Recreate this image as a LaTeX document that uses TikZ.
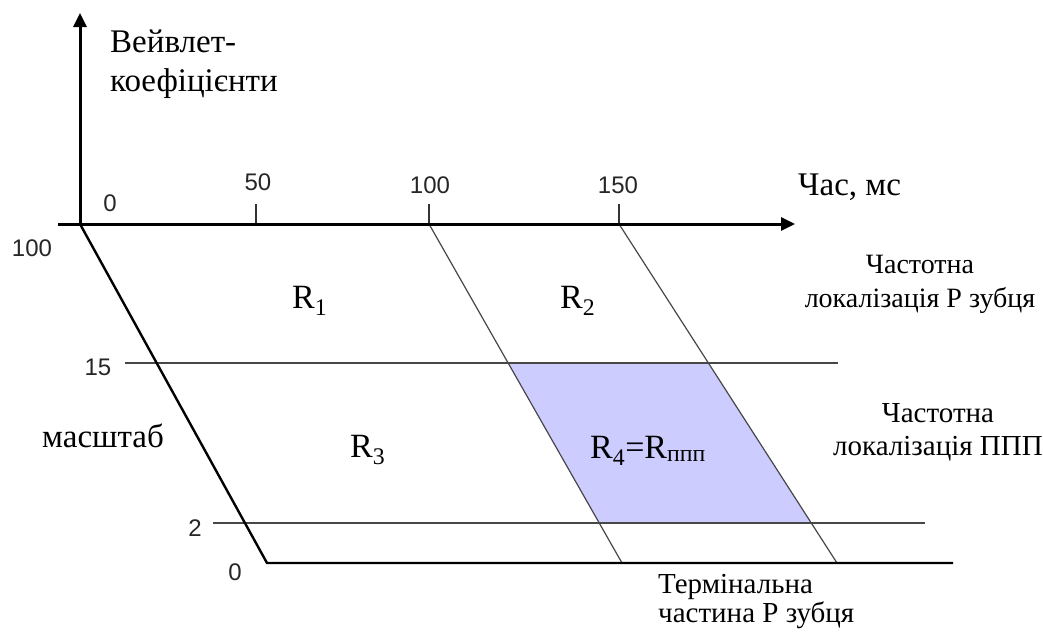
\documentclass[tikz,border=0pt]{standalone}
\usepackage{fontspec}
\setmainfont{Liberation Serif}
\newfontfamily\numfont{Liberation Sans}
\usetikzlibrary{arrows.meta}
\begin{document}
\begin{tikzpicture}[x=1pt,y=-1pt,
  axis/.style={line width=3pt,-{Triangle[length=14pt,width=13pt]}},
  frame/.style={line width=2.4pt,line join=miter},
  thin/.style={line width=1.2pt,draw=black!72},
  tick/.style={line width=1.3pt,draw=black!80},
  num/.style={font=\numfont\fontsize{24}{28}\selectfont,inner sep=0pt,anchor=base,text=black!85},
  lbl/.style={font=\fontsize{33}{39}\selectfont,inner sep=0pt,anchor=base west},
  rlab/.style={font=\fontsize{34}{40}\selectfont,inner sep=0pt,anchor=base west},
  side/.style={font=\fontsize{28}{34}\selectfont,inner sep=0pt,align=center,anchor=base},
  shade/.style={fill={rgb,255:red,204;green,204;blue,255}}
]
\useasboundingbox (0,0) rectangle (1043,632);
% coordinates
\coordinate (O) at (80,224);
\coordinate (Ytop) at (80,13);
\coordinate (Xl) at (58,224);
\coordinate (Xr) at (795,224);
\coordinate (S0) at (267,563);
\coordinate (Bend) at (953,563);
\coordinate (A1) at (429,224);
\coordinate (A2) at (622,563);
\coordinate (B1) at (619,224);
\coordinate (B2) at (837,563);
\coordinate (Pa) at (125,363);
\coordinate (Pb) at (838,363);
\coordinate (Qa) at (213,523);
\coordinate (Qb) at (925,523);
\coordinate (T50a) at (256,204);
\coordinate (T50b) at (256,224);
\coordinate (T100a) at (429,204);
\coordinate (T150a) at (619,204);
% shaded region
\fill[shade] (intersection of A1--A2 and Pa--Pb) -- (intersection of B1--B2 and Pa--Pb)
  -- (intersection of B1--B2 and Qa--Qb) -- (intersection of A1--A2 and Qa--Qb) -- cycle;
% thin lines
\draw[thin] (Pa) -- (Pb);
\draw[thin] (Qa) -- (Qb);
\draw[thin] (A1) -- (A2);
\draw[thin] (B1) -- (B2);
% ticks
\draw[tick] (T50a) -- (T50b);
\draw[tick] (T100a) -- (A1);
\draw[tick] (T150a) -- (B1);
% frame
\draw[frame] (O) -- (S0) -- (Bend);
\draw[axis] (O) -- (Ytop);
\draw[axis] (Xl) -- (Xr);
% numbers
\node[num] (n0) at (110,211) {0};
\node[num] (n50) at (258,190) {50};
\node[num] (n100) at (430,193) {100};
\node[num] (n150) at (618,193) {150};
\node[num] (m100) at (32,256) {100};
\node[num] (m15) at (98,375) {15};
\node[num] (m2) at (195,536) {2};
\node[num] (m0) at (235,580) {0};
% labels
\node[lbl] (ylab1) at (110,52) {Вейвлет-};
\node[lbl] (ylab2) at (110,91) {коефіцієнти};
\node[lbl] (xlab) at (798,195) {Час, мс};
\node[lbl] (scale) at (42,447) {масштаб};
\node[side] (loc1) at (920,307) {Частотна\\локалізація Р зубця};
\node[side,font=\fontsize{29}{33}\selectfont] (loc2) at (938,455) {Частотна\\локалізація ППП};
\node[side,font=\fontsize{29}{29}\selectfont,align=left,anchor=base west] (term) at (658,622) {Термінальна\\частина Р зубця};
% regions
\node[rlab] (r1) at (292,308) {R\textsubscript{1}};
\node[rlab] (r2) at (560,308) {R\textsubscript{2}};
\node[rlab] (r3) at (350,457) {R\textsubscript{3}};
\node[rlab] (r4) at (590,458) {R\textsubscript{4}=R\textsubscript{ппп}};
\end{tikzpicture}
\end{document}
